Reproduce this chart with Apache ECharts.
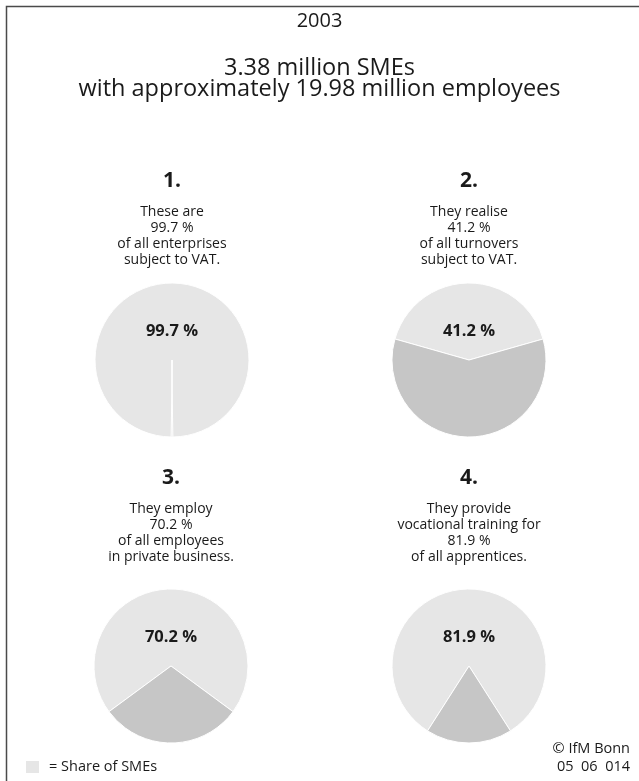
<!DOCTYPE html>
<html><head><meta charset="utf-8">
<script src="https://cdn.jsdelivr.net/npm/echarts@6/dist/echarts.min.js"></script>
<style>html,body{margin:0;padding:0;background:#fff}#c{width:639px;height:781px}</style>
</head><body><div id="c"></div>
<script>
// ---- data ----
const year = '2003';
const headline = ['3.38 million SMEs', 'with approximately 19.98 million employees'];
const panelNumbers = ['1.', '2.', '3.', '4.'];
const smeShares = [99.7, 41.2, 70.2, 81.9];
const panelTexts = [
  ['These are', '{v} %', 'of all enterprises', 'subject to VAT.'],
  ['They realise', '{v} %', 'of all turnovers', 'subject to VAT.'],
  ['They employ', '{v} %', 'of all employees', 'in private business.'],
  ['They provide', 'vocational training for', '{v} %', 'of all apprentices.']
];
const sliceNames = ['SMEs', 'Others'];
const legendText = '= Share of SMEs';
const sourceLines = ['\u00A9 IfM Bonn', '05  06  014'];

// ---- layout ----
const FONT = "'Open Sans', 'Noto Sans', sans-serif";
const centers = [[172, 360], [469, 360], [171, 666], [469, 666]];
const R = 77;
const numTop = [169, 169, 466, 466];
const txtTop = [204, 204, 501, 501];
const SME_COLOR = '#e6e6e6', OTHER_COLOR = '#c6c6c6', TXT = '#1a1a1a';

const series = smeShares.map((v, i) => ({
  type: 'pie',
  center: centers[i],
  radius: [0, R],
  startAngle: 90 + v * 1.8,
  clockwise: true,
  silent: true,
  animation: false,
  avoidLabelOverlap: false,
  itemStyle: { borderColor: '#ffffff', borderWidth: 1 },
  labelLine: { show: false },
  emphasis: { disabled: true },
  data: [
    { name: sliceNames[0], value: v, itemStyle: { color: SME_COLOR },
      label: { show: true, position: 'inside', formatter: '{c} %', offset: [0, 13],
               fontFamily: FONT, fontWeight: 'bold', fontSize: 16.5, color: TXT } },
    { name: sliceNames[1], value: +(100 - v).toFixed(1), itemStyle: { color: OTHER_COLOR },
      label: { show: false } }
  ]
}));

const graphics = [
  { type: 'polyline', shape: { points: [[6.5, 781], [6.5, 6.5], [639, 6.5]] },
    style: { stroke: '#4a4a4a', lineWidth: 1.5, fill: null }, silent: true },
  { type: 'text', x: 319.5, y: 9, silent: true,
    style: { text: year, font: `20px ${FONT}`, fill: TXT, textAlign: 'center', textVerticalAlign: 'top', lineHeight: 24 } },
  { type: 'text', x: 319.5, y: 58, silent: true,
    style: { text: headline.join('\n'), font: `23.5px ${FONT}`, fill: TXT, textAlign: 'center', textVerticalAlign: 'top', lineHeight: 21 } },
  { type: 'text', x: 630, y: 740, silent: true,
    style: { text: sourceLines.join('\n'), font: `14.5px ${FONT}`, fill: TXT, textAlign: 'right', textVerticalAlign: 'top', lineHeight: 18 } }
];
smeShares.forEach((v, i) => {
  graphics.push({ type: 'text', x: centers[i][0], y: numTop[i], silent: true,
    style: { text: panelNumbers[i], font: `bold 21px ${FONT}`, fill: TXT, textAlign: 'center', textVerticalAlign: 'top', lineHeight: 25 } });
  graphics.push({ type: 'text', x: centers[i][0], y: txtTop[i], silent: true,
    style: { text: panelTexts[i].map(s => s.replace('{v}', v.toFixed(1))).join('\n'),
             font: `14px ${FONT}`, fill: TXT, textAlign: 'center', textVerticalAlign: 'top', lineHeight: 16 } });
});

const chart = echarts.init(document.getElementById('c'), null, { renderer: 'canvas' });
chart.setOption({
  animation: false,
  backgroundColor: '#ffffff',
  legend: {
    data: [sliceNames[0]], left: 24, top: 759, icon: 'rect', itemWidth: 15, itemHeight: 14,
    selectedMode: false, formatter: () => legendText, padding: 0,
    textStyle: { fontFamily: FONT, fontSize: 14.5, color: TXT, padding: [0, 0, 0, 4] }
  },
  series,
  graphic: graphics
});
</script></body></html>
